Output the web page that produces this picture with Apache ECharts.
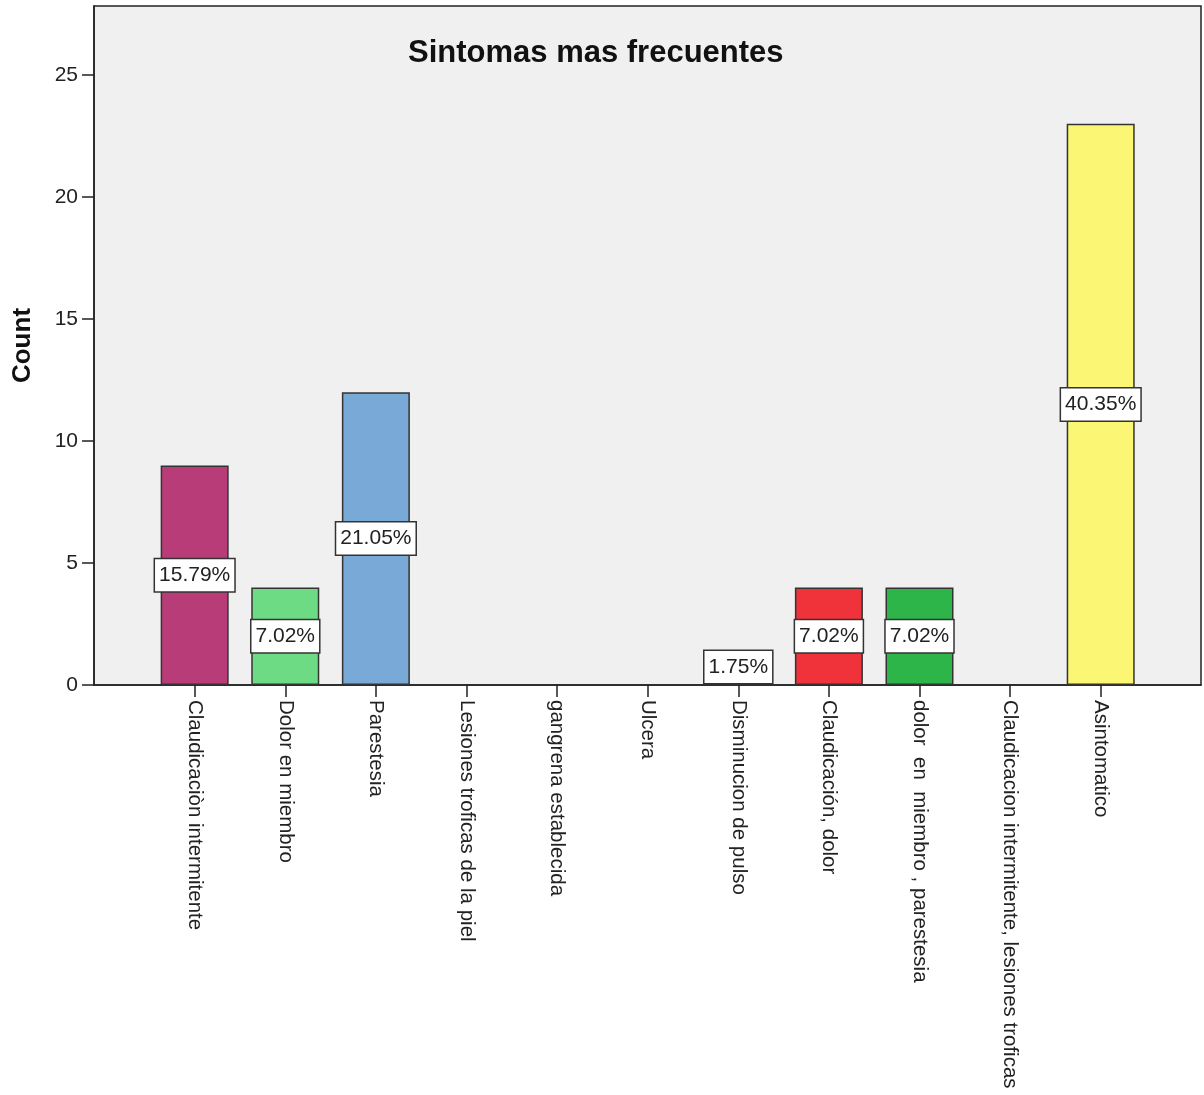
<!DOCTYPE html>
<html>
<head>
<meta charset="utf-8">
<script src="https://cdn.jsdelivr.net/npm/echarts@6/dist/echarts.min.js"></script>
<style>html,body{margin:0;padding:0;background:#fff}#c{width:1204px;height:1095px}</style>
</head>
<body>
<div id="c"></div>
<script>
const categories = [
  'Claudicaciòn intermitente',
  'Dolor en miembro',
  'Parestesia',
  'Lesiones troficas de la piel',
  'gangrena establecida',
  'Ulcera',
  'Disminucion de pulso',
  'Claudicación, dolor',
  'dolor  en  miembro , parestesia',
  'Claudicacion intermitente, lesiones troficas',
  'Asintomatico'
];
const counts = [9, 4, 12, 0, 0, 0, 1, 4, 4, 0, 23];
const percentLabels = ['15.79%', '7.02%', '21.05%', '', '', '', '1.75%', '7.02%', '7.02%', '', '40.35%'];
const barColors = ['#b83c78', '#6ddb84', '#79aad7', '#cccccc', '#cccccc', '#cccccc', '#f2f2f2', '#f0323a', '#2db54a', '#cccccc', '#fbf673'];
const yTicks = [0, 5, 10, 15, 20, 25];
const xTicks = categories.map((c, i) => i);

const chart = echarts.init(document.getElementById('c'), null, {renderer: 'canvas'});
const font = 'Liberation Sans, Arial, sans-serif';

const data = counts.map((v, i) => {
  const item = {
    value: [i, v],
    itemStyle: {color: barColors[i]}
  };
  if (v === 0) {
    item.label = {show: false};
    item.itemStyle.borderWidth = 0;
  } else if (v === 1) {
    item.label = {position: 'insideBottom', distance: 2};
  }
  return item;
});

chart.setOption({
  animation: false,
  backgroundColor: '#ffffff',
  title: {
    text: 'Sintomas mas frecuentes',
    left: 403,
    top: 33,
    textStyle: {fontFamily: font, fontWeight: 'bold', fontSize: 31, color: '#111'}
  },
  grid: {
    left: 94, top: 6, right: 3, bottom: 410,
    containLabel: false,
    outerBoundsMode: 'none',
    show: true, backgroundColor: '#f0f0f0', borderColor: '#222', borderWidth: 1.5
  },
  xAxis: {
    type: 'value',
    min: -1.111, max: 11.107,
    splitLine: {show: false},
    axisLine: {show: true, onZero: false, lineStyle: {color: '#222', width: 1.5}},
    axisTick: {show: true, length: 12, customValues: xTicks, lineStyle: {color: '#222', width: 1.5}},
    axisLabel: {
      customValues: xTicks,
      rotate: -90,
      margin: 15,
      fontFamily: font, fontSize: 20.5, color: '#222',
      formatter: v => categories[Math.round(v)]
    }
  },
  yAxis: {
    type: 'value',
    min: 0, max: 27.83,
    name: 'Count',
    nameLocation: 'middle',
    nameRotate: 90,
    nameGap: 58,
    nameTextStyle: {fontFamily: font, fontWeight: 'bold', fontSize: 26, color: '#111'},
    splitLine: {show: false},
    axisLine: {show: true, onZero: false, lineStyle: {color: '#222', width: 1.5}},
    axisTick: {show: true, length: 12, customValues: yTicks, lineStyle: {color: '#222', width: 1.5}},
    axisLabel: {customValues: yTicks, margin: 16, fontFamily: font, fontSize: 21, color: '#222'}
  },
  series: [{
    type: 'bar',
    barWidth: 68,
    data: data,
    itemStyle: {borderColor: '#333', borderWidth: 1.5},
    label: {
      show: true,
      position: 'inside',
      formatter: p => percentLabels[p.dataIndex],
      fontFamily: font, fontSize: 21, color: '#222',
      backgroundColor: '#ffffff',
      borderColor: '#333', borderWidth: 1.5,
      padding: [6, 4, 5, 4]
    }
  }]
});
</script>
</body>
</html>
